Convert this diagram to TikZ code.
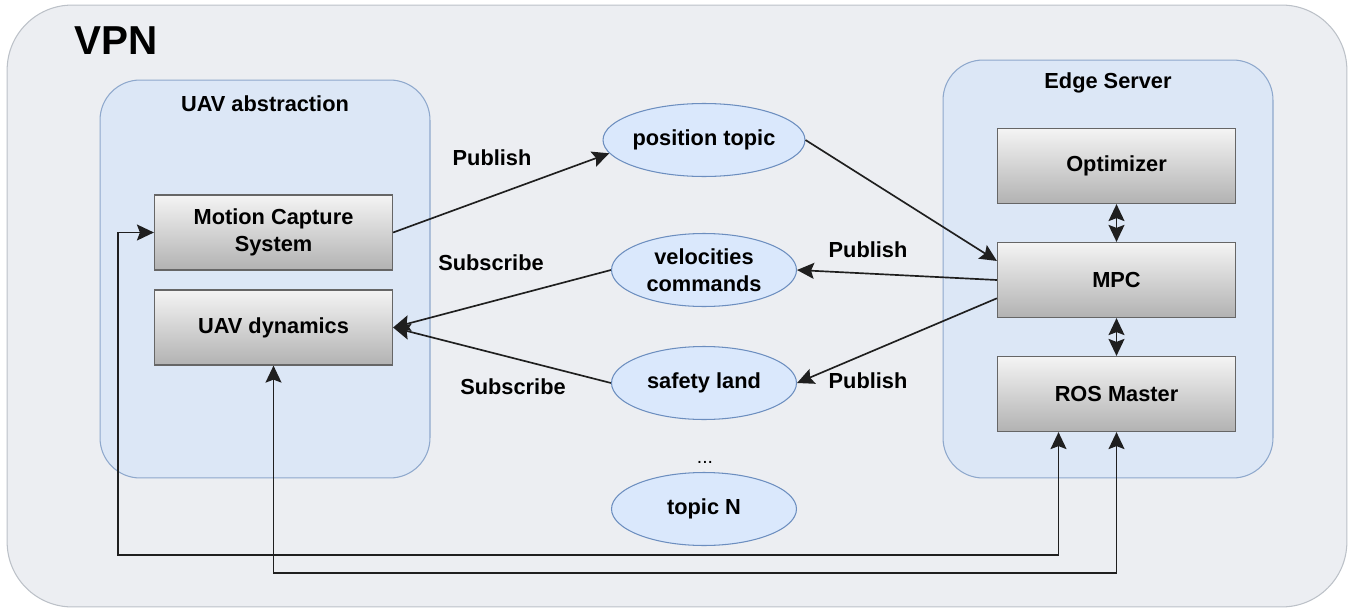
\documentclass[tikz,border=0pt]{standalone}
\usepackage{fontspec}
\setmainfont{Liberation Sans}
\usetikzlibrary{arrows.meta,calc,shapes.geometric}
\definecolor{vpnfill}{HTML}{ECEEF2}
\definecolor{vpnline}{HTML}{BCC1C8}
\definecolor{groupfill}{HTML}{DCE7F6}
\definecolor{groupline}{HTML}{8EA8CC}
\definecolor{blocktop}{HTML}{F4F4F4}
\definecolor{blockbot}{HTML}{B2B2B2}
\definecolor{blockline}{HTML}{666666}
\definecolor{topicfill}{HTML}{DAE8FC}
\definecolor{topicline}{HTML}{6C8EBF}
\begin{document}
\begin{tikzpicture}[x=0.02cm,y=-0.02cm,
  font=\fontsize{12.4}{15.5}\selectfont\bfseries,
  vpn/.style={draw=vpnline, fill=vpnfill, rounded corners=1.3cm, line width=0.6pt,
    minimum width=26.8cm, minimum height=12.04cm, inner sep=0pt},
  group/.style={draw=groupline, fill=groupfill, rounded corners=0.8cm, line width=0.6pt,
    minimum width=6.6cm, inner sep=0pt},
  block/.style={draw=blockline, top color=blocktop, bottom color=blockbot,
    minimum width=4.76cm, minimum height=1.5cm, align=center, line width=0.7pt},
  topic/.style={ellipse, draw=topicline, fill=topicfill, minimum width=3.7cm,
    minimum height=1.46cm, align=center, inner sep=0pt, line width=0.6pt},
  tip/.tip={Stealth[length=3.4mm,width=3.2mm,inset=0.6mm]},
  link/.style={draw=black!88, line width=0.95pt, -tip},
  both/.style={draw=black!88, line width=0.95pt, tip-tip},
  lbl/.style={inner sep=0pt}]
\useasboundingbox (0,0) rectangle (1352,612);

% containers
\node[vpn] (vpn) at (677,306) {};
\node[lbl, anchor=west, font=\fontsize{23}{26}\selectfont\bfseries] (vpnlabel) at (74,41) {VPN};
\node[group, minimum height=7.96cm] (uav) at (265,279) {};
\node[lbl] (uavlabel) at (265,104) {UAV abstraction};
\node[group, minimum height=8.36cm] (edge) at (1108,269) {};
\node[lbl] (edgelabel) at (1108,83) {Edge Server};

% components
\node[block] (mcs) at (273.5,232.5) {Motion Capture\\System};
\node[block] (dyn) at (273.5,327.5) {UAV dynamics};
\node[block] (opt) at (1116.5,166) {Optimizer};
\node[block] (mpc) at (1116.5,280) {MPC};
\node[block] (ros) at (1116.5,394) {ROS Master};

% topics
\node[topic] (pos) at (704,140) {position topic};
\node[topic] (vel) at (704,270) {velocities\\commands};
\node[topic] (safe) at (704,383) {safety land};
\node[lbl, font=\fontsize{11}{13}\selectfont] (dots) at (705,462) {...};

% labels
\node[lbl] (pub1) at (492,158) {Publish};
\node[lbl] (sub1) at (491,263) {Subscribe};
\node[lbl] (sub2) at (513,387) {Subscribe};
\node[lbl] (pub2) at (868,250) {Publish};
\node[lbl] (pub3) at (868,381) {Publish};

% publish / subscribe links
\draw[link] (mcs.east) -- (pos.188);
\draw[link] (pos.east) -- ($(mpc.north west)!0.25!(mpc.south west)$);
\draw[link] (mpc.west) -- (vel.east);
\draw[link] ($(mpc.north west)!0.74!(mpc.south west)$) -- (safe.east);
\draw[link] (vel.west) -- (dyn.east);
\draw[link] (safe.west) -- (dyn.east);
\draw[both] (opt.south) -- (mpc.north);
\draw[both] (mpc.south) -- (ros.north);

% lanes to the ROS master
\coordinate (rosA) at ($(ros.south)+(-58,0)$);
\coordinate (lane1) at (118,555);
\coordinate (lane2) at (273.5,573);
\draw[both] (mcs.west) -| (lane1) -| (rosA);
\draw[both] (dyn.south) |- (ros.south |- lane2) -- (ros.south);

% generic topic, above the lanes
\node[topic] (topicN) at (704,509) {topic N};
\end{tikzpicture}
\end{document}
